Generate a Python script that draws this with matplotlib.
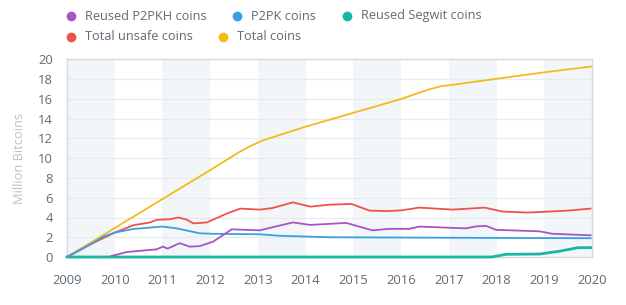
import numpy as np
import matplotlib
matplotlib.use("Agg")
import matplotlib.pyplot as plt
from matplotlib.lines import Line2D

plt.rcParams['font.family'] = ['Open Sans', 'DejaVu Sans']

# data (million bitcoins)
tot_x = [2009, 2012.0, 2012.6, 2012.85, 2013.1, 2014.0, 2015.0, 2016.0, 2016.6, 2016.85, 2017.1, 2018.0, 2019.0, 2020.0]
tot_y = [0, 8.8, 10.6, 11.25, 11.8, 13.2, 14.6, 16.0, 17.0, 17.3, 17.45, 18.05, 18.7, 19.3]

unsafe_x = [2009, 2009.5, 2010.0, 2010.39, 2010.74, 2010.88, 2011.16, 2011.33, 2011.5, 2011.65, 2011.93, 2012.35, 2012.63,
            2013.04, 2013.3, 2013.73, 2014.1, 2014.5, 2014.96, 2015.34, 2015.7, 2016.0, 2016.38, 2017.08, 2017.75,
            2018.13, 2018.65, 2019.1, 2019.5, 2019.97]
unsafe_y = [0, 1.3, 2.47, 3.22, 3.5, 3.76, 3.83, 4.0, 3.8, 3.4, 3.5, 4.4, 4.9,
            4.8, 4.95, 5.53, 5.1, 5.3, 5.37, 4.7, 4.65, 4.72, 5.0, 4.8, 5.0,
            4.6, 4.5, 4.6, 4.7, 4.9]

p2pk_x = [2009, 2009.5, 2009.76, 2010.0, 2010.39, 2011.0, 2011.3, 2011.78, 2012.06, 2013.04, 2013.45, 2014.5, 2016.0, 2018.0, 2019.97]
p2pk_y = [0, 1.3, 2.06, 2.47, 2.84, 3.08, 2.9, 2.4, 2.35, 2.3, 2.15, 2.0, 1.97, 1.93, 1.9]

p2pkh_x = [2009.93, 2010.25, 2010.88, 2011.01, 2011.11, 2011.36, 2011.57, 2011.78, 2012.06, 2012.45, 2013.04, 2013.73,
           2014.1, 2014.85, 2015.4, 2015.75, 2016.17, 2016.38, 2017.36, 2017.57, 2017.78, 2017.99, 2018.9, 2019.17, 2019.97]
p2pkh_y = [0.1, 0.5, 0.78, 1.05, 0.85, 1.4, 1.05, 1.1, 1.55, 2.8, 2.7, 3.5,
           3.25, 3.45, 2.7, 2.85, 2.85, 3.08, 2.9, 3.1, 3.15, 2.75, 2.6, 2.35, 2.2]

segwit_x = [2009, 2017.9, 2018.2, 2018.9, 2019.3, 2019.7, 2019.97]
segwit_y = [0, 0, 0.27, 0.3, 0.57, 0.94, 0.95]

years = list(range(2009, 2021))
yticks = list(range(0, 21, 2))

c_p2pkh = '#a853c6'
c_p2pk = '#3a9fe0'
c_segwit = '#1ab5a5'
c_unsafe = '#f0524a'
c_total = '#f5ba1a'
txt_col = '#5f6b77'

fig = plt.figure(figsize=(6.26, 3.05), dpi=100)
ax = fig.add_axes([67/626, 48/305, 525/626, 197.5/305])

# alternating year bands
for y0 in years[:-1]:
    if (y0 - 2009) % 2 == 0:
        ax.axvspan(y0, y0 + 1, color='#f3f6f8', zorder=0, lw=0)

for t in yticks[1:]:
    ax.axhline(t, color='#e6ebee', lw=0.9, zorder=1)

ax.plot(segwit_x, segwit_y, color=c_segwit, lw=2, zorder=3, clip_on=False)
ax.plot(tot_x, tot_y, color=c_total, lw=1.3, zorder=4)
ax.plot(unsafe_x, unsafe_y, color=c_unsafe, lw=1.3, zorder=4)
ax.plot(p2pk_x, p2pk_y, color=c_p2pk, lw=1.3, zorder=4)
ax.plot(p2pkh_x, p2pkh_y, color=c_p2pkh, lw=1.3, zorder=4)

ax.set_xlim(2009, 2020)
ax.set_ylim(0, 20)
ax.set_xticks(years)
ax.set_yticks(yticks)
ax.tick_params(length=0, labelsize=9.4, colors=txt_col)
ax.tick_params(axis='x', pad=12)
ax.tick_params(axis='y', pad=10)
for s in ax.spines.values():
    s.set_color('#d3dbe0')
    s.set_linewidth(1)
ax.set_ylabel('Million Bitcoins', color='#b6c3cc', fontsize=9.3, labelpad=9)

# legend, placed by hand
legend_items = [
    ('Reused P2PKH coins', c_p2pkh, 71, 16),
    ('P2PK coins', c_p2pk, 237, 16),
    ('Reused Segwit coins', c_segwit, 347, 16),
    ('Total unsafe coins', c_unsafe, 71, 37),
    ('Total coins', c_total, 223, 37),
]
for label, col, px, py in legend_items:
    fx = px / 626
    fy = 1 - py / 305
    fig.add_artist(Line2D([fx], [fy], marker='o', markersize=6, color=col, lw=0,
                          transform=fig.transFigure))
    fig.text(fx + 14/626, fy, label, fontsize=9.2, color=txt_col, va='center', ha='left')

fig.savefig('out.png', dpi=100)
